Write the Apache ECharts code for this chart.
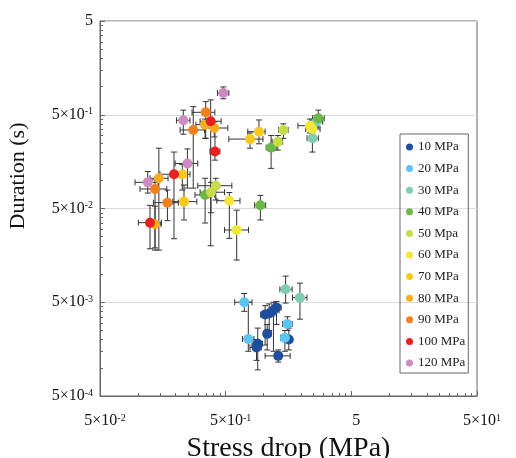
<!DOCTYPE html>
<html><head><meta charset="utf-8">
<script src="https://cdn.jsdelivr.net/npm/echarts@6/dist/echarts.min.js"></script>
<style>html,body{margin:0;padding:0;background:#fff}#c{width:516px;height:458px}</style>
</head><body><div id="c"></div>
<script>
const seriesNames = ['10 MPa','20 MPa','30 MPa','40 MPa','50 Mpa','60 MPa','70 MPa','80 MPa','90 MPa','100 MPa','120 MPa'];
const seriesColors = ['#1f4e9f','#5bc4f1','#7fcdb1','#6cb847','#c8dc4a','#f2e638','#f8c81c','#f9ab22','#f07f1e','#e8201e','#cf8ac2'];
// [stress drop (MPa), duration (s), xLow, xHigh, yLow, yHigh]
const p10 = [
 [1.03, 0.0037, 0.95, 1.13, 0.00175, 0.0046],
 [1.11, 0.0038, 1.03, 1.23, 0.0025, 0.0048],
 [1.20, 0.0041, 1.11, 1.33, 0.0015, 0.0050],
 [1.27, 0.0044, 1.17, 1.38, 0.0029, 0.0051],
 [1.07, 0.0023, 1.01, 1.15, 0.00155, 0.0029],
 [1.59, 0.0020, 1.46, 1.69, 0.00155, 0.00265],
 [0.90, 0.0018, 0.81, 0.98, 0.00095, 0.00265],
 [0.88, 0.00165, 0.78, 0.96, 0.0012, 0.0020],
 [1.31, 0.00134, 1.03, 1.63, 0.00115, 0.00155]
];
const p20 = [
 [0.703, 0.0050, 0.59, 0.81, 0.0040, 0.0062],
 [1.55, 0.00293, 1.42, 1.69, 0.0025, 0.0035],
 [0.757, 0.00203, 0.68, 0.84, 0.0015, 0.0050],
 [1.48, 0.00209, 1.37, 1.59, 0.0015, 0.0025]
];
const p30 = [
 [1.50, 0.00687, 1.35, 1.69, 0.0049, 0.0095],
 [1.95, 0.0056, 1.70, 2.22, 0.0033, 0.0080],
 [2.45, 0.281, 2.22, 2.73, 0.20, 0.32],
 [2.65, 0.422, 2.39, 2.96, 0.37, 0.49]
];
const p40 = [
 [2.73, 0.458, 2.46, 3.04, 0.41, 0.56],
 [1.15, 0.223, 1.05, 1.26, 0.134, 0.30],
 [0.343, 0.0697, 0.285, 0.41, 0.035, 0.105],
 [0.944, 0.0541, 0.85, 1.04, 0.0377, 0.069]
];
const p50 = [
 [1.30, 0.258, 1.17, 1.42, 0.21, 0.30],
 [1.44, 0.344, 1.32, 1.57, 0.28, 0.40],
 [0.382, 0.0745, 0.313, 0.49, 0.045, 0.095],
 [0.417, 0.0875, 0.30, 0.56, 0.0616, 0.105]
];
const p60 = [
 [2.34, 0.382, 1.88, 2.72, 0.32, 0.45],
 [2.45, 0.352, 2.17, 2.82, 0.29, 0.42],
 [0.535, 0.0605, 0.425, 0.65, 0.024, 0.074],
 [0.612, 0.0295, 0.49, 0.76, 0.0141, 0.048]
];
const p70 = [
 [0.781, 0.275, 0.53, 0.99, 0.22, 0.32],
 [0.92, 0.330, 0.75, 1.03, 0.245, 0.44],
 [0.226, 0.116, 0.20, 0.26, 0.0787, 0.147],
 [0.233, 0.0592, 0.19, 0.295, 0.0377, 0.089]
];
const p80 = [
 [0.343, 0.392, 0.29, 0.40, 0.28, 0.45],
 [0.406, 0.361, 0.34, 0.52, 0.29, 0.42],
 [0.147, 0.105, 0.125, 0.174, 0.018, 0.22],
 [0.137, 0.034, 0.122, 0.153, 0.018, 0.053]
];
const p90 = [
 [0.347, 0.531, 0.27, 0.41, 0.28, 0.69],
 [0.276, 0.344, 0.217, 0.34, 0.0825, 0.61],
 [0.137, 0.0807, 0.104, 0.17, 0.019, 0.101],
 [0.172, 0.0577, 0.133, 0.21, 0.0371, 0.0787]
];
const p100 = [
 [0.380, 0.426, 0.313, 0.46, 0.020, 0.72],
 [0.411, 0.203, 0.375, 0.45, 0.164, 0.36],
 [0.194, 0.116, 0.15, 0.237, 0.0238, 0.20],
 [0.125, 0.0353, 0.101, 0.154, 0.0186, 0.054]
];
const p120 = [
 [0.479, 0.853, 0.43, 0.53, 0.74, 0.99],
 [0.230, 0.436, 0.203, 0.26, 0.31, 0.56],
 [0.248, 0.151, 0.198, 0.30, 0.0826, 0.216],
 [0.120, 0.095, 0.095, 0.145, 0.073, 0.124]
];
const groups = [p10,p20,p30,p40,p50,p60,p70,p80,p90,p100,p120];

const xMajorTicks = [0.05, 0.5, 5, 50];
const xMajorLabels = ['5×10{s|-2}', '5×10{s|-1}', '5', '5×10{s|1}'];
const yMajorTicks = [0.0005, 0.005, 0.05, 0.5, 5];
const yMajorLabels = ['5×10{s|-4}', '5×10{s|-3}', '5×10{s|-2}', '5×10{s|-1}', '5'];
const minorMultipliers = [2,3,4,5,6,7,8,9];

function minors(majors){
  const out = [];
  for (let i = 0; i < majors.length - 1; i++) minorMultipliers.forEach(k => out.push(majors[i]*k));
  return out;
}
function labelFor(ticks, labels){
  return function(v){
    let best = 0, bd = Infinity;
    ticks.forEach((t,i)=>{ const d = Math.abs(Math.log10(v) - Math.log10(t)); if (d < bd){bd=d;best=i;} });
    return labels[best];
  };
}
const FONT = 'Liberation Serif';
const AX = '#666';
const richSup = { s: { fontSize: 10, lineHeight: 10, verticalAlign: 'top', fontFamily: FONT, color: '#111' } };

function renderErr(params, api){
  const x = api.value(0), y = api.value(1);
  const xl = api.value(2), xh = api.value(3), yl = api.value(4), yh = api.value(5);
  const c = api.coord([x, y]);
  const a = api.coord([xl, y]), b = api.coord([xh, y]);
  const lo = api.coord([x, yl]), hi = api.coord([x, yh]);
  const cap = 3;
  const st = { stroke: '#333', lineWidth: 1 };
  const L = (x1,y1,x2,y2)=>({type:'line', shape:{x1,y1,x2,y2}, style: st});
  return { type: 'group', children: [
    L(a[0], c[1], b[0], c[1]),
    L(a[0], c[1]-cap, a[0], c[1]+cap),
    L(b[0], c[1]-cap, b[0], c[1]+cap),
    L(c[0], hi[1], c[0], lo[1]),
    L(c[0]-cap, hi[1], c[0]+cap, hi[1]),
    L(c[0]-cap, lo[1], c[0]+cap, lo[1])
  ]};
}

const series = [];
groups.forEach((g, i) => {
  series.push({
    type: 'custom', name: 'err' + i, xAxisIndex: 0, yAxisIndex: 0, z: 1,
    renderItem: renderErr, data: g, encode: { x: [0,2,3], y: [1,4,5] }, silent: true
  });
});
groups.forEach((g, i) => {
  series.push({
    type: 'scatter', name: seriesNames[i], xAxisIndex: 0, yAxisIndex: 0, z: 3,
    symbol: 'circle', symbolSize: 10,
    itemStyle: { color: seriesColors[i], opacity: 1 },
    data: g.map(r => [r[0], r[1]])
  });
});

const chart = echarts.init(document.getElementById('c'), null, { renderer: 'canvas' });
chart.setOption({
  animation: false,
  color: seriesColors,
  grid: { left: 100, top: 21, right: 39, bottom: 62, show: true, borderColor: AX, borderWidth: 1, outerBoundsMode: 'none' },
  xAxis: [
    { type: 'log', logBase: 10, min: 0.05, max: 50, position: 'bottom',
      axisLine: { show: true, lineStyle: { color: AX } },
      axisTick: { show: true, inside: true, length: 5, customValues: xMajorTicks, lineStyle: { color: AX } },
      axisLabel: { customValues: xMajorTicks, formatter: labelFor(xMajorTicks, xMajorLabels), margin: 17,
        fontFamily: FONT, fontSize: 16, lineHeight: 16, color: '#111', padding: [0,0,0,10], rich: richSup },
      splitLine: { show: false }, minorTick: { show: false } },
    { type: 'log', logBase: 10, min: 0.05, max: 50, position: 'bottom',
      axisLine: { show: false },
      axisTick: { show: true, inside: true, length: 3, customValues: minors(xMajorTicks), lineStyle: { color: AX } },
      axisLabel: { show: false }, splitLine: { show: false } }
  ],
  yAxis: [
    { type: 'log', logBase: 10, min: 0.0005, max: 5, position: 'left',
      axisLine: { show: true, lineStyle: { color: AX } },
      axisTick: { show: true, inside: true, length: 5, customValues: yMajorTicks, lineStyle: { color: AX } },
      axisLabel: { customValues: yMajorTicks, formatter: labelFor(yMajorTicks, yMajorLabels), margin: 7,
        fontFamily: FONT, fontSize: 16, lineHeight: 16, color: '#111', rich: richSup },
      splitLine: { show: true, lineStyle: { color: '#dcdcdc', width: 1 } }, minorTick: { show: false } },
    { type: 'log', logBase: 10, min: 0.0005, max: 5, position: 'left',
      axisLine: { show: false },
      axisTick: { show: true, inside: true, length: 3, customValues: minors(yMajorTicks), lineStyle: { color: AX } },
      axisLabel: { show: false }, splitLine: { show: false } }
  ],
  legend: {
    orient: 'vertical', left: 400, top: 134, data: seriesNames, icon: 'circle',
    itemWidth: 7, itemHeight: 7, itemGap: 7.6,
    borderColor: '#666', borderWidth: 1, borderRadius: 0, padding: [6, 3, 3, 6],
    backgroundColor: 'transparent',
    textStyle: { fontFamily: FONT, fontSize: 13, lineHeight: 14, color: '#222' }
  },
  graphic: [
    { type: 'text', x: 288.5, y: 449, silent: true,
      style: { text: 'Stress drop (MPa)', font: '28px "Liberation Serif"', fill: '#111', textAlign: 'center', textVerticalAlign: 'middle' } },
    { type: 'text', x: 18, y: 176, rotation: Math.PI / 2, silent: true,
      style: { text: 'Duration (s)', font: '22px "Liberation Serif"', fill: '#111', textAlign: 'center', textVerticalAlign: 'middle' } }
  ],
  series: series
});
</script>
</body></html>
